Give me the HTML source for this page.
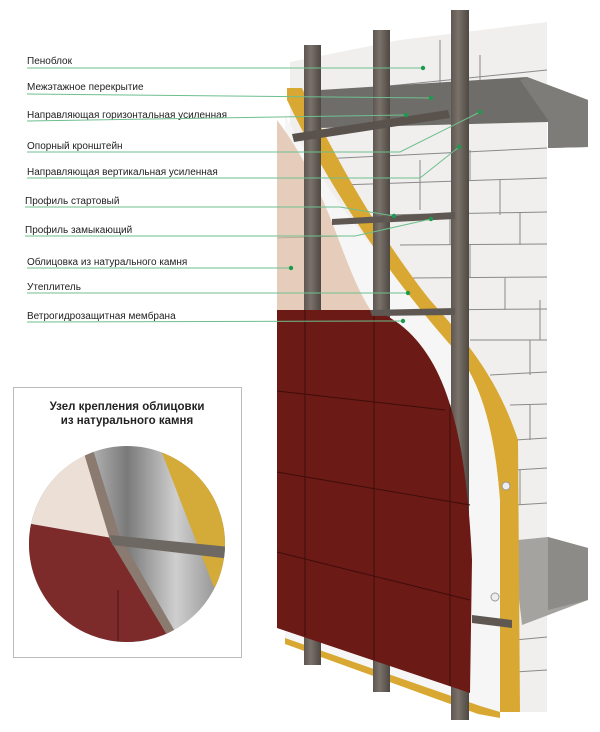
<!DOCTYPE html>
<html><head><meta charset="utf-8"><style>
html,body{margin:0;padding:0;background:#fff;}
svg{display:block}
text{font-family:"Liberation Sans",sans-serif;}
</style></head><body>
<svg width="600" height="732" viewBox="0 0 600 732" xmlns="http://www.w3.org/2000/svg">
<defs>
<clipPath id="cc"><circle cx="127" cy="544" r="98"/></clipPath>
<linearGradient id="metal" x1="0" x2="1"><stop offset="0" stop-color="#5e5650"/><stop offset="0.4" stop-color="#7a726a"/><stop offset="1" stop-color="#4e4842"/></linearGradient>
<linearGradient id="cm" x1="0" x2="1"><stop offset="0" stop-color="#5c5c5c"/><stop offset="0.3" stop-color="#b8b8b8"/><stop offset="0.5" stop-color="#7a7a7a"/><stop offset="0.75" stop-color="#cfcfcf"/><stop offset="1" stop-color="#8a8a8a"/></linearGradient>
</defs>
<!-- brick wall -->
<polygon points="290,62 400,40 547,22 547,712 480,712 290,640" fill="#f0efed"/>
<g stroke="#8a8a8a" stroke-width="1" fill="none">
<path d="M300,95 L547,70 M300,160 L547,148 M340,185 L547,178 M380,215 L547,212 M400,245 L547,244 M410,278 L547,277 M420,310 L547,309 M470,340 L547,340 M490,375 L547,372 M510,405 L547,404 M515,440 L547,438 M515,470 L547,468 M515,505 L547,503 M515,640 L547,637 M515,672 L547,670"/>
<path d="M440,40 V85 M480,55 V80 M420,160 V210 M470,150 V180 M500,180 V215 M450,215 V245 M520,212 V245 M470,245 V278 M505,278 V310 M540,300 V340 M530,340 V375 M530,404 V440 M520,470 V505"/>
</g>
<!-- top beam -->
<polygon points="320,90 527,77 588,100 588,147 548,148 548,122 320,128" fill="#6f6d6a"/>
<polygon points="527,77 588,100 588,147 548,148 548,120 520,80" fill="#7e7c78"/>
<!-- lower beam -->
<polygon points="518,540 548,537 588,548 588,600 522,625 518,590" fill="#a5a3a0"/>
<polygon points="548,537 588,548 588,600 548,610" fill="#8d8b88"/>
<!-- membrane white -->
<path d="M285,115 C330,200 400,290 455,330 C480,360 495,430 500,500 L500,712 L285,640 Z" fill="#f6f6f6"/>
<!-- yellow insulation -->
<path d="M287,88 L302,88 C340,170 390,250 430,300 C470,345 498,380 518,440 L520,712 L500,712 L500,500 C495,430 480,380 455,350 C410,300 340,210 287,100 Z" fill="#d9a832"/>
<path d="M285,638 L480,706 L500,712 L500,718 L478,714 L285,644 Z" fill="#d9a832"/>
<!-- stone -->
<path d="M277,120 C300,150 320,190 335,230 C350,270 360,295 372,312 L277,312 Z" fill="#e6cdbb"/>
<path d="M277,238 L345,236" stroke="#b8a090" stroke-width="0.8"/>
<path d="M305,140 V312" stroke="#c8b0a0" stroke-width="0.8"/>
<!-- vertical rails -->
<rect x="304" y="45" width="17" height="620" fill="url(#metal)"/>
<rect x="373" y="30" width="17" height="662" fill="url(#metal)"/>
<rect x="451" y="10" width="18" height="710" fill="url(#metal)"/>
<!-- tiles -->
<path d="M277,310 L372,310 C405,320 430,350 445,390 C460,430 468,480 472,560 L470,693 L277,628 Z" fill="#6b1a16"/>
<g stroke="#3f0d0b" stroke-width="1" fill="none">
<path d="M305,310 V636 M374,312 V660 M450,405 V686"/>
<path d="M277,391 L445,410 M277,472 L470,505 M277,552 L470,600"/>
</g>
<!-- horizontal rails -->
<polygon points="292,134 448,110 450,118 294,142" fill="#5a534d"/>
<polygon points="332,219 455,212 455,219 332,225" fill="#5f5852"/>
<polygon points="370,310 455,308 455,315 372,316" fill="#5f5852"/>
<polygon points="472,615 512,620 512,628 472,623" fill="#5f5852"/>
<circle cx="506" cy="486" r="4" fill="#eee" stroke="#999"/>
<circle cx="495" cy="597" r="4" fill="#eee" stroke="#999"/>
<!-- labels -->
<g font-size="10" fill="#222">
<text x="27" y="64">Пеноблок</text>
<text x="27" y="90">Межэтажное перекрытие</text>
<text x="27" y="118">Направляющая горизонтальная усиленная</text>
<text x="27" y="149">Опорный кронштейн</text>
<text x="27" y="175">Направляющая вертикальная усиленная</text>
<text x="25" y="204">Профиль стартовый</text>
<text x="25" y="233">Профиль замыкающий</text>
<text x="27" y="265">Облицовка из натурального камня</text>
<text x="27" y="290">Утеплитель</text>
<text x="27" y="319">Ветрогидрозащитная мембрана</text>
</g>
<g stroke="#6dbf8e" stroke-width="1" fill="none">
<path d="M27,68 H423"/>
<path d="M27,94 L431,98"/>
<path d="M27,121 L406,115"/>
<path d="M27,152 H400 L480,112"/>
<path d="M27,178 H420 L459,147"/>
<path d="M25,207 H340 L394,216"/>
<path d="M25,236 H355 L431,219"/>
<path d="M27,268 H291"/>
<path d="M27,293 H408"/>
<path d="M27,322 L403,321"/>
</g>
<g fill="#1e9a4e">
<circle cx="423" cy="68" r="2.2"/><circle cx="431" cy="98" r="2.2"/><circle cx="406" cy="115" r="2.2"/>
<circle cx="480" cy="112" r="2.2"/><circle cx="459" cy="147" r="2.2"/><circle cx="394" cy="216" r="2.2"/>
<circle cx="431" cy="219" r="2.2"/><circle cx="291" cy="268" r="2.2"/><circle cx="408" cy="293" r="2.2"/>
<circle cx="403" cy="321" r="2.2"/>
</g>
<!-- inset -->
<rect x="13.5" y="387.5" width="228" height="270" fill="#fff" stroke="#bbb"/>
<text x="127" y="410" font-size="11.5" font-weight="bold" text-anchor="middle" fill="#222">Узел крепления облицовки</text>
<text x="127" y="424" font-size="11.5" font-weight="bold" text-anchor="middle" fill="#222">из натурального камня</text>
<g clip-path="url(#cc)">
<rect x="29" y="446" width="196" height="196" fill="url(#cm)"/>
<polygon points="20,440 82,440 112,538 20,522" fill="#ece0d6"/>
<polygon points="20,522 112,538 172,640 20,650" fill="#7d2a2a"/>
<polygon points="80,440 90,440 120,537 180,640 170,640 110,540" fill="#8a7a70"/>
<polygon points="157,440 240,440 240,620 213,585" fill="#d4aa38"/>
<polygon points="110,535 240,548 240,560 112,545" fill="#6e6862"/>
<path d="M118,590 V645" stroke="#3f0d0b" stroke-width="0.8"/>
</g>
</svg>
</body></html>
